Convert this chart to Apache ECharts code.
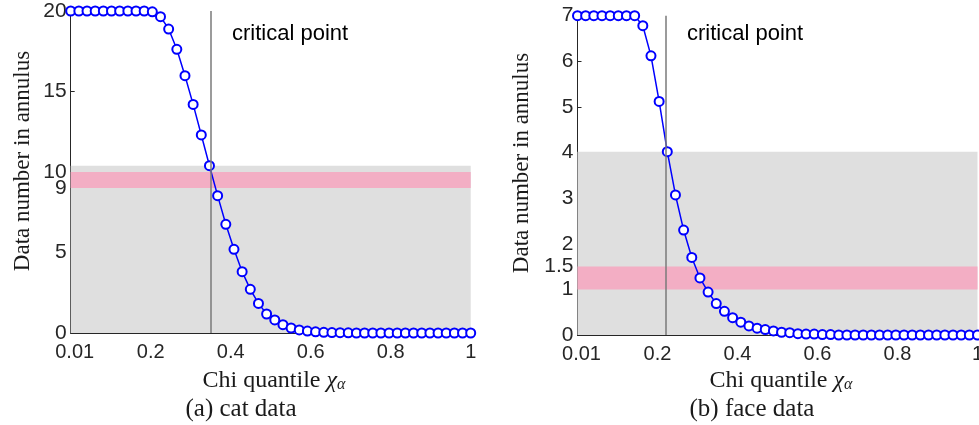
<!DOCTYPE html>
<html>
<head>
<meta charset="utf-8">
<title>annulus</title>
<script src="https://cdn.jsdelivr.net/npm/echarts@6/dist/echarts.min.js"></script>
<style>
  html, body { margin: 0; padding: 0; background: #fff; }
  #main { width: 979px; height: 425px; }
</style>
</head>
<body>
<div id="main"></div>
<script>
// chi quantile samples (linspace 0..1, 50 points)
var chiX = [0, 0.0204, 0.0408, 0.0612, 0.0816, 0.1020, 0.1224, 0.1429, 0.1633, 0.1837,
    0.2041, 0.2245, 0.2449, 0.2653, 0.2857, 0.3061, 0.3265, 0.3469, 0.3673, 0.3878,
    0.4082, 0.4286, 0.4490, 0.4694, 0.4898, 0.5102, 0.5306, 0.5510, 0.5714, 0.5918,
    0.6122, 0.6327, 0.6531, 0.6735, 0.6939, 0.7143, 0.7347, 0.7551, 0.7755, 0.7959,
    0.8163, 0.8367, 0.8571, 0.8776, 0.8980, 0.9184, 0.9388, 0.9592, 0.9796, 1];

// (a) cat data
var catCount = [20, 20, 20, 20, 20, 20, 20, 20, 20, 20,
    19.95, 19.65, 18.88, 17.62, 15.98, 14.2, 12.3, 10.39, 8.53, 6.75,
    5.2, 3.81, 2.71, 1.84, 1.18, 0.81, 0.52, 0.31, 0.19, 0.12,
    0.07, 0.04, 0.03, 0.02, 0.01, 0, 0, 0, 0, 0,
    0, 0, 0, 0, 0, 0, 0, 0, 0, 0];
var catCritX = 0.3469, catCritY = 10.39;
var catBand = [9, 10];
var catYTicks = [0, 5, 9, 10, 15, 20];

// (b) face data
var faceCount = [7, 7, 7, 7, 7, 7, 7, 7, 6.78, 6.12,
    5.12, 4.02, 3.07, 2.30, 1.70, 1.25, 0.94, 0.69, 0.52, 0.38,
    0.28, 0.20, 0.15, 0.12, 0.09, 0.06, 0.05, 0.03, 0.02, 0.02,
    0.01, 0.01, 0, 0, 0, 0, 0, 0, 0, 0,
    0, 0, 0, 0, 0, 0, 0, 0, 0, 0];
var faceCritX = 0.2245, faceCritY = 4.02;
var faceBand = [1, 1.5];
var faceYTicks = [0, 1, 1.5, 2, 3, 4, 5, 6, 7];

var xTicks = [0.01, 0.2, 0.4, 0.6, 0.8, 1];

var axisColor = '#262626';
var sansFont = '"Liberation Sans", Arial, sans-serif';
var serifFont = '"Liberation Serif", "Times New Roman", serif';

function pairs(xs, ys) {
    var out = [];
    for (var i = 0; i < xs.length; i++) out.push([xs[i], ys[i]]);
    return out;
}

function xAxisOf(idx) {
    return {
        type: 'value', gridIndex: idx, min: 0, max: 1,
        axisLine: {onZero: false, lineStyle: {color: axisColor, width: 1}},
        axisTick: {inside: true, length: 4, customValues: xTicks, lineStyle: {color: axisColor}},
        axisLabel: {
            customValues: xTicks, color: axisColor, fontFamily: sansFont, fontSize: 20, margin: 9,
            formatter: function (v) { return v === 0.01 ? '0.01' : String(v); }
        },
        splitLine: {show: false}
    };
}

function yAxisOf(idx, max, ticks) {
    return {
        type: 'value', gridIndex: idx, min: 0, max: max,
        axisLine: {show: true, lineStyle: {color: axisColor, width: 1}},
        axisTick: {show: true, inside: true, length: 4, customValues: ticks, lineStyle: {color: axisColor}},
        axisLabel: {customValues: ticks, color: axisColor, fontFamily: sansFont, fontSize: 21, margin: 4},
        splitLine: {show: false}
    };
}

// background bands + critical line live on an empty series under the curve
function bandSeries(idx, critX, critY, band) {
    return {
        type: 'line', xAxisIndex: idx, yAxisIndex: idx, data: [], z: 1, silent: true,
        markArea: {
            silent: true,
            data: [
                [{xAxis: 0, yAxis: 0, itemStyle: {color: '#dfdfdf'}}, {xAxis: 1, yAxis: critY}],
                [{xAxis: 0, yAxis: band[0], itemStyle: {color: '#f3aec4'}}, {xAxis: 1, yAxis: band[1]}]
            ]
        },
        markLine: {
            silent: true, symbol: 'none', label: {show: false},
            lineStyle: {color: '#7a7a7a', width: 1.5, type: 'solid'},
            data: [{xAxis: critX}]
        }
    };
}

function curveSeries(idx, ys) {
    return {
        type: 'line', xAxisIndex: idx, yAxisIndex: idx, z: 3,
        data: pairs(chiX, ys),
        symbol: 'emptyCircle', symbolSize: 9, showAllSymbol: true,
        lineStyle: {color: '#0000ff', width: 1.5},
        itemStyle: {color: '#0000ff', borderColor: '#0000ff', borderWidth: 1.6},
        animation: false
    };
}

function label(text, x, y, size, font, rot) {
    return {
        type: 'text', x: x, y: y, rotation: rot || 0,
        style: {text: text, font: size + 'px ' + font, fill: '#1a1a1a', align: 'center', verticalAlign: 'middle'}
    };
}

function chiName(x, y) {
    return {
        type: 'text', x: x, y: y,
        style: {
            text: '{t|Chi quantile }{c|χ}{s|α}', align: 'center', verticalAlign: 'middle',
            rich: {
                t: {font: '24px ' + serifFont, fill: '#1a1a1a'},
                c: {font: 'italic 24px ' + serifFont, fill: '#1a1a1a'},
                s: {font: 'italic 16px ' + serifFont, fill: '#1a1a1a', padding: [8, 0, 0, 0]}
            }
        }
    };
}

var chart = echarts.init(document.getElementById('main'));
chart.setOption({
    animation: false,
    grid: [
        {left: 70.7, top: 11, width: 400, height: 322, outerBoundsMode: 'none', containLabel: false},
        {left: 577.5, top: 15.7, width: 400, height: 319.3, outerBoundsMode: 'none', containLabel: false}
    ],
    xAxis: [xAxisOf(0), xAxisOf(1)],
    yAxis: [yAxisOf(0, 20, catYTicks), yAxisOf(1, 7, faceYTicks)],
    series: [
        bandSeries(0, catCritX, catCritY, catBand),
        curveSeries(0, catCount),
        bandSeries(1, faceCritX, faceCritY, faceBand),
        curveSeries(1, faceCount)
    ],
    graphic: [
        {type: 'text', left: 232, top: 23, style: {text: 'critical point', font: '22px ' + sansFont, fill: '#000'}},
        {type: 'text', left: 687, top: 23, style: {text: 'critical point', font: '22px ' + sansFont, fill: '#000'}},
        label('Data number in annulus', 23, 161, 23, serifFont, Math.PI / 2),
        label('Data number in annulus', 522, 163, 23, serifFont, Math.PI / 2),
        chiName(274, 381),
        chiName(781, 381),
        label('(a) cat data', 241, 409, 25, serifFont),
        label('(b) face data', 752, 409, 25, serifFont)
    ]
});
</script>
</body>
</html>
